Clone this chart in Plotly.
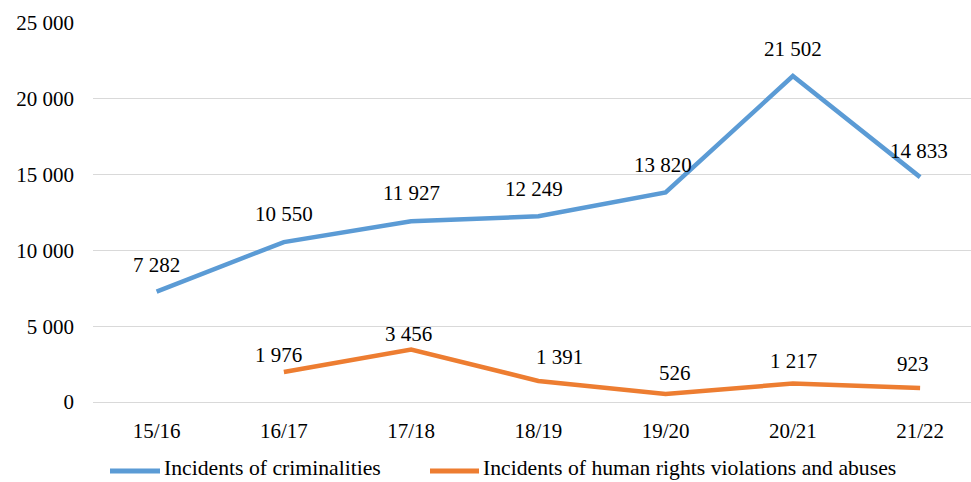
import plotly.graph_objects as go

# Financial years and incident counts
years = ["15/16", "16/17", "17/18", "18/19", "19/20", "20/21", "21/22"]
criminalities = [7282, 10550, 11927, 12249, 13820, 21502, 14833]
human_rights = [None, 1976, 3456, 1391, 526, 1217, 923]

series_names = ["Incidents of criminalities",
                "Incidents of human rights violations and abuses"]
y_ticks = [0, 5000, 10000, 15000, 20000, 25000]

BLUE = "#5B9BD5"
ORANGE = "#ED7D31"
FONT = "Liberation Serif, Times New Roman, Times, DejaVu Serif, serif"
FS = 21
FS_LEGEND = 21.7

# label nudges in pixels (x, y) for each point
crim_nudge = [(0, 27), (0, 28), (0, 28), (-4, 27), (-3, 27), (0, 27), (-1, 26)]
hr_nudge = [(0, 0), (-5, 17), (-3, 16), (21, 24), (9, 21), (1, 23), (-7, 24)]

W, H = 971, 482
L, R, T, B = 93, 0, 23, 80
pw, ph = W - L - R, H - T - B


def fmt(v):
    return f"{v:,}".replace(",", " ")


def px_to_paper(x, y):
    return (x - L) / pw, (H - B - y) / ph


fig = go.Figure()
fig.add_trace(go.Scatter(x=years, y=criminalities, mode="lines", name=series_names[0],
                         line=dict(color=BLUE, width=4.5), connectgaps=False))
fig.add_trace(go.Scatter(x=years, y=human_rights, mode="lines", name=series_names[1],
                         line=dict(color=ORANGE, width=4.5), connectgaps=False))

annotations = []
for vals, nudges in ((criminalities, crim_nudge), (human_rights, hr_nudge)):
    for cat, v, (dx, dy) in zip(years, vals, nudges):
        if v is None:
            continue
        annotations.append(dict(x=cat, y=v, xref="x", yref="y", text=fmt(v),
                                showarrow=False, xanchor="center", yanchor="middle",
                                xshift=dx, yshift=dy,
                                font=dict(family=FONT, size=FS, color="#000000")))

# legend drawn as line swatches with text beside them
shapes = []
legend_items = [(110, 160, 162, series_names[0], BLUE),
                (430, 479, 481, series_names[1], ORANGE)]
for x0, x1, tx, name, col in legend_items:
    a0, b0 = px_to_paper(x0, 471)
    a1, _ = px_to_paper(x1, 471)
    shapes.append(dict(type="line", xref="paper", yref="paper", x0=a0, x1=a1, y0=b0, y1=b0,
                       line=dict(color=col, width=5)))
    ta, tb = px_to_paper(tx, 468)
    annotations.append(dict(x=ta, y=tb, xref="paper", yref="paper", text=name,
                            showarrow=False, xanchor="left", yanchor="middle",
                            font=dict(family=FONT, size=FS_LEGEND, color="#000000")))

fig.update_layout(
    width=W, height=H,
    margin=dict(l=L, r=R, t=T, b=B, pad=0),
    paper_bgcolor="white", plot_bgcolor="white",
    separators=". ",
    showlegend=False,
    font=dict(family=FONT, size=FS, color="#000000"),
    annotations=annotations,
    shapes=shapes,
    xaxis=dict(type="category", range=[-0.5, 6.4], showgrid=False, zeroline=False,
               showline=False, ticks="", ticklabelstandoff=14,
               tickfont=dict(family=FONT, size=FS, color="#000000")),
    yaxis=dict(range=[0, 25000], tickvals=y_ticks, ticktext=[fmt(v) for v in y_ticks],
               showgrid=True, gridcolor="#D9D9D9", gridwidth=1.2,
               zeroline=True, zerolinecolor="#D9D9D9", zerolinewidth=1.2,
               showline=False, ticks="", ticklabelstandoff=18,
               tickfont=dict(family=FONT, size=FS, color="#000000")),
)

fig.write_html("out.html")
